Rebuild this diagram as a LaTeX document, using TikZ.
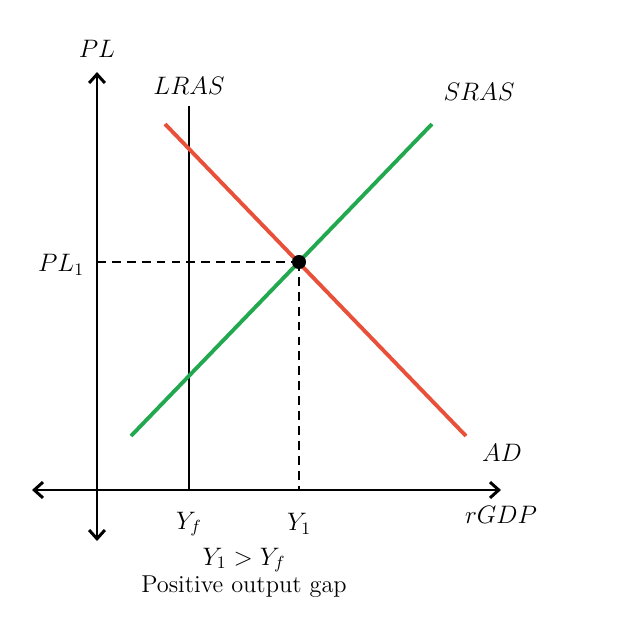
\documentclass[tikz,border=0pt]{standalone}
\usetikzlibrary{arrows.meta}
\begin{document}
\begin{tikzpicture}[x=0.57pt,y=-0.57pt,
  axis/.style={line width=1.7pt,{Straight Barb[length=5pt,width=9pt]}-{Straight Barb[length=5pt,width=9pt]}},
  curve/.style={line width=2.2pt},
  guide/.style={line width=1.6pt,dash pattern=on 5pt off 3.5pt},
  lbl/.style={inner sep=1pt,font=\fontsize{13.9}{16}\selectfont}]
\useasboundingbox (0,0) rectangle (618,633);
\definecolor{adred}{HTML}{E8503A}
\definecolor{asgreen}{HTML}{22A84F}
% axes
\coordinate (ytop) at (97,72);
\coordinate (ybot) at (97,541);
\coordinate (xl) at (32,490);
\coordinate (xr) at (501,490);
\draw[axis] (ybot) -- (ytop);
\draw[axis] (xl) -- (xr);
% LRAS
\coordinate (lt) at (189,106);
\coordinate (lb) at (189,490);
\draw[line width=1.7pt] (lb) -- (lt);
% curves
\coordinate (s1) at (131,436);
\coordinate (s2) at (432,124);
\coordinate (a1) at (165,124);
\coordinate (a2) at (466,436);
\draw[curve,asgreen] (s1) -- (s2);
\draw[curve,adred] (a1) -- (a2);
% equilibrium
\coordinate (e) at (299,262);
\coordinate (pe) at (97,262);
\coordinate (ye) at (299,490);
\draw[guide] (pe) -- (e);
\draw[guide] (e) -- (ye);
\node[circle,fill=black,inner sep=0pt,minimum size=8pt] (eq) at (e) {};
% labels
\node[lbl] (lPL) at (97,49) {$PL$};
\node[lbl] (lLRAS) at (189,86) {$LRAS$};
\node[lbl] (lSRAS) at (479,92) {$SRAS$};
\node[lbl] (lPL1) at (61,265) {$PL_1$};
\node[lbl] (lAD) at (502,453) {$AD$};
\node[lbl] (lrGDP) at (501,515) {$rGDP$};
\node[lbl] (lYf) at (189,524) {$Y_f$};
\node[lbl] (lY1) at (299,524) {$Y_1$};
\node[lbl] (lgap1) at (244,560) {$Y_1>Y_f$};
\node[lbl] (lgap2) at (244,587) {Positive output gap};
\end{tikzpicture}
\end{document}
